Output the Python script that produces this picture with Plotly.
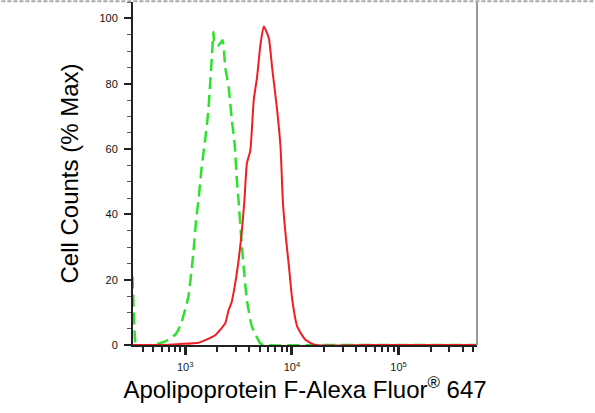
import plotly.graph_objects as go

# isotype control (green dashed) - fluorescence vs % max
ctrl_x = [320, 335, 345, 477, 643, 822, 917, 1067, 1189, 1270, 1327, 1426, 1535, 1649, 1711,
          1772, 1837, 1878, 2049, 2234, 2371, 2547, 2737, 2900, 3048, 3162, 3326, 3524, 3784,
          4217, 5070, 5445, 20000, 100000, 545000]
ctrl_y = [21, 4, 0, 0, 1, 3.5, 6.7, 14.7, 28, 39, 44, 54.5, 62.7, 72, 80,
          87.7, 95.8, 92.3, 91.7, 93.3, 85, 79, 68.8, 61.7, 50.5, 44, 34, 24, 13.8,
          5.6, 0.5, 0, 0, 0, 0]

# Apolipoprotein F stained sample (red)
apof_x = [320, 600, 891, 1327, 1905, 2371, 2547, 2716, 2944, 3162, 3373, 3581, 3784, 4074,
          4385, 4710, 5070, 5445, 6067, 6516, 7261, 7816, 8222, 8710, 9376, 10070, 11220,
          13460, 16750, 50000, 545000]
apof_y = [0, 0, 0.3, 0.7, 3, 6.7, 10.7, 13, 19, 26, 34, 44, 55.6, 59.6,
          75, 82, 92, 97.5, 94, 85, 72, 60.6, 44, 34, 24, 13.8, 5.6,
          1.5, 0, 0, 0]

major_x = [1e3, 1e4, 1e5]
major_x_text = ["10<sup>3</sup>", "10<sup>4</sup>", "10<sup>5</sup>"]
minor_x = [m * d for d in (1e2, 1e3, 1e4, 1e5) for m in range(2, 10) if 330 < m * d < 545000]

fig = go.Figure()
fig.add_trace(go.Scatter(x=ctrl_x, y=ctrl_y, mode="lines",
                         line=dict(color="#2fe02f", width=2.5, dash="12px,6px",
                                   shape="spline", smoothing=0.5),
                         showlegend=False))
fig.add_trace(go.Scatter(x=apof_x, y=apof_y, mode="lines",
                         line=dict(color="#ee1e24", width=2, shape="spline", smoothing=0.5),
                         showlegend=False))

fig.update_layout(
    width=595, height=413,
    margin=dict(l=133, r=118, t=2, b=68),
    plot_bgcolor="white", paper_bgcolor="white",
    font=dict(family="Liberation Sans, Arial", color="#222"),
)
fig.update_xaxes(
    type="log", range=[2.51, 5.735],
    tickvals=major_x, ticktext=major_x_text,
    ticks="outside", ticklen=8, tickwidth=3, tickcolor="#222",
    tickfont=dict(size=11), ticklabelstandoff=3,
    minor=dict(tickvals=minor_x, ticks="outside", ticklen=5, tickwidth=1.5, tickcolor="#222"),
    showgrid=False, zeroline=False,
    showline=True, linecolor="#222", linewidth=2,
    title=dict(text="Apolipoprotein F-Alexa Fluor<sup>®</sup> 647",
               font=dict(size=24, color="black"), standoff=8),
)
fig.update_yaxes(
    range=[0, 105],
    tickvals=[0, 20, 40, 60, 80, 100],
    ticks="outside", ticklen=7, tickwidth=2, tickcolor="#222",
    tickfont=dict(size=11, color="#111"), ticklabelstandoff=4,
    minor=dict(dtick=5, ticks="outside", ticklen=4, tickwidth=1, tickcolor="#555"),
    showgrid=False, zeroline=False,
    showline=True, linecolor="#222", linewidth=2,
    title=dict(text="Cell Counts (% Max)", font=dict(size=24, color="black"), standoff=14),
)

# gray right border and dashed top edge
fig.add_shape(type="line", xref="paper", yref="paper", x0=1, x1=1, y0=0, y1=1,
              line=dict(color="#999", width=2))
fig.add_shape(type="line", xref="paper", yref="paper", x0=-0.4, x1=1.4, y0=1.002, y1=1.002,
              line=dict(color="#aaa", width=2, dash="4px,2px"))

# page body has a default margin; drop it so the figure sits at the window corner
fig.write_html("out.html", config={"displayModeBar": False},
               post_script="document.body.style.margin='0';")
